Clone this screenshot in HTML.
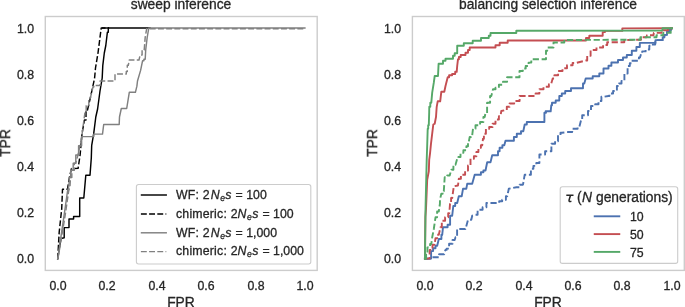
<!DOCTYPE html>
<html><head><meta charset="utf-8"><title>ROC curves</title>
<style>
html,body{margin:0;padding:0;background:#fff;}
body{width:685px;height:307px;overflow:hidden;position:relative;font-family:"Liberation Sans",sans-serif;color:#262626;}
svg{position:absolute;left:0;top:0;}
.t{will-change:transform;-webkit-text-stroke:0.3px #262626;position:absolute;white-space:nowrap;line-height:1;font-family:"Liberation Sans",sans-serif;color:#262626;}
.t i{font-style:italic;}
.t .m1{margin-left:1.2px;}
.t .sub{font-size:70%;position:relative;top:1.9px;margin-left:0.6px;}
.t .m2{margin-left:0.4px;}
.t .eq{margin-left:0.6px;}
</style></head><body>
<svg width="685" height="307" viewBox="0 0 685 307">
<rect x="45.3" y="16.5" width="271.9" height="253.9" fill="#fff" stroke="#cccccc" stroke-width="1.4"/>
<rect x="412.4" y="16.5" width="271.9" height="253.9" fill="#fff" stroke="#cccccc" stroke-width="1.4"/>
<polyline points="57.7,258.9 59.5,247.0 61.0,238.5 64.2,237.7 64.2,227.6 69.0,227.6 69.0,218.9 73.6,218.9 73.6,216.4 79.7,216.4 79.7,198.0 83.8,198.0 85.8,175.2 90.0,175.2 91.3,158.0 91.7,145.3 93.7,133.7 95.8,117.0 97.6,109.0 100.0,91.0 102.2,78.0 102.8,65.3 104.3,53.0 105.8,45.5 107.4,32.2 108.3,32.2 108.3,28.0 109.2,28.0 150.0,28.0" fill="none" stroke="#000000" stroke-width="1.45" stroke-linejoin="round" stroke-linecap="square"/>
<polyline points="57.7,258.9 59.2,232.0 61.7,209.0 62.5,189.2 67.5,189.2 69.4,177.5 71.5,168.5 78.1,168.3 80.1,155.0 82.1,133.0 84.5,120.0 86.0,120.0 86.0,110.0 87.5,110.0 90.0,99.3 93.0,85.7 94.6,78.0 95.5,68.0 98.0,53.0 101.2,28.0 109.0,28.0" fill="none" stroke="#000000" stroke-width="1.45" stroke-dasharray="5.9 2.3" stroke-linejoin="round" stroke-linecap="butt"/>
<line x1="102.0" y1="28" x2="109.2" y2="28" stroke="#000" stroke-width="1.45"/>
<polyline points="57.7,258.9 63.3,220.7 65.0,209.0 67.5,191.3 68.9,186.0 69.4,177.5 70.7,177.5 70.7,170.3 72.0,170.3 73.2,170.3 73.2,163.2 74.5,163.2 75.8,163.2 75.8,155.0 77.1,155.0 78.6,155.0 78.6,145.8 80.1,145.8 81.6,145.8 81.6,136.6 83.1,136.6 93.8,136.6 93.8,134.1 102.5,134.1 103.7,124.5 119.2,124.5 119.5,117.0 121.3,108.5 126.7,108.5 129.3,92.3 135.4,92.3 136.9,86.2 137.5,81.0 140.6,70.4 142.6,60.7 143.9,60.7 143.9,59.2 145.2,59.2 145.7,50.0 147.2,37.3 148.8,28.0 304.9,28.0" fill="none" stroke="#808080" stroke-width="1.45" stroke-linejoin="round" stroke-linecap="square"/>
<polyline points="57.9,258.9 64.3,220.7 66.1,209.0 68.6,191.3 70.0,186.0 70.5,177.5 71.8,177.5 71.8,170.3 73.1,170.3 74.3,170.3 74.3,163.2 75.6,163.2 78.0,155.0 81.7,137.0 85.0,112.0 86.2,112.0 86.2,105.7 87.5,105.7 88.8,105.7 88.8,99.3 90.0,99.3 93.0,87.0 93.8,87.0 93.8,85.4 94.5,85.4 100.1,85.4 100.1,80.9 115.0,80.9 115.0,74.0 126.3,74.0 126.3,71.5 127.3,71.5 127.3,65.3 128.3,65.3 129.3,60.0 139.0,60.0 140.1,55.1 142.1,55.1 142.1,50.0 144.2,50.0 145.2,37.3 146.7,28.7 304.9,28.7" fill="none" stroke="#808080" stroke-width="1.45" stroke-dasharray="5.9 2.3" stroke-linejoin="round" stroke-linecap="butt"/>
<polyline points="424.9,258.8 429.9,258.6 431.1,258.6 431.1,251.1 432.4,251.1 433.1,251.1 433.1,248.2 433.8,248.2 435.5,248.2 435.5,245.7 437.2,245.7 438.8,239.0 440.5,239.0 441.4,239.0 441.4,234.8 442.2,234.8 443.0,227.3 447.2,227.3 447.6,227.3 447.6,224.8 448.0,224.8 450.1,224.8 450.1,215.7 452.2,215.7 453.3,206.0 455.2,206.0 455.2,203.0 457.2,203.0 458.8,196.3 461.7,196.3 463.0,188.8 466.3,188.8 467.2,183.8 472.2,183.8 474.7,174.7 480.5,174.7 480.9,174.7 480.9,172.2 481.3,172.2 483.4,172.2 483.4,170.5 485.5,170.5 487.2,162.2 490.5,162.2 492.2,155.3 497.2,155.3 498.0,155.3 498.0,151.2 498.8,151.2 499.6,151.2 499.6,147.8 500.5,147.8 502.4,147.8 502.4,145.3 504.3,145.3 505.5,140.7 513.0,140.7 513.9,140.7 513.9,137.0 514.7,137.0 516.8,137.0 516.8,133.7 518.8,133.7 521.0,133.7 521.0,131.2 523.3,131.2 524.7,124.5 526.8,124.5 526.8,122.0 528.8,122.0 542.7,122.0 544.4,122.0 544.4,112.8 546.0,112.8 545.7,111.3 550.7,111.3 551.3,105.2 552.0,105.2 552.0,102.7 552.7,102.7 555.7,102.7 555.7,100.5 559.3,100.5 559.3,96.0 561.8,96.0 561.8,93.5 565.2,93.5 565.2,91.0 571.0,91.0 571.0,88.2 581.8,88.2 583.0,88.2 583.0,83.5 584.3,83.5 585.7,78.5 592.7,78.5 592.7,76.3 599.3,76.3 599.3,73.5 602.7,73.5 603.5,73.5 603.5,68.5 604.3,68.5 608.5,68.5 608.5,65.8 611.4,65.8 611.4,62.5 614.3,62.5 618.0,62.5 618.0,60.0 621.8,60.0 623.0,60.0 623.0,57.5 624.3,57.5 626.8,57.5 626.8,55.0 629.3,55.0 631.8,55.0 631.8,50.8 634.3,50.8 636.4,50.8 636.4,47.0 638.5,47.0 639.8,47.0 639.8,42.9 641.0,42.9 655.5,42.9 655.5,40.1 662.1,40.1 662.7,40.1 662.7,37.3 663.3,37.3 664.3,37.3 664.3,34.9 665.3,34.9 667.0,34.9 667.0,32.0 668.6,32.0 669.4,32.0 669.4,30.0 670.2,30.0 671.1,30.0 671.1,28.3 672.0,28.3" fill="none" stroke="#4c72b0" stroke-width="1.9" stroke-linejoin="round" stroke-linecap="square"/>
<polyline points="424.9,258.8 429.9,258.6 431.8,258.6 431.8,257.3 433.6,257.3 437.3,257.3 439.1,257.3 439.1,254.2 441.0,254.2 444.2,254.2 445.4,249.9 446.6,249.9 446.6,248.6 447.9,248.6 449.1,248.6 449.1,243.7 450.4,243.7 452.5,243.7 452.5,240.0 454.7,240.0 455.5,237.3 457.1,237.3 457.1,229.0 458.8,229.0 465.5,229.0 468.0,219.8 471.3,219.8 472.2,215.7 475.5,214.8 477.6,214.8 477.6,209.8 479.7,209.8 482.6,209.8 482.6,207.3 485.5,207.3 486.4,207.3 486.4,203.0 487.2,203.0 498.8,203.0 499.2,203.0 499.2,201.3 499.7,201.3 502.2,201.3 502.2,199.7 504.7,199.7 505.9,199.7 505.9,196.3 507.2,196.3 508.8,188.8 516.3,187.2 519.6,187.2 519.6,184.7 523.0,184.7 524.7,174.7 529.7,174.7 530.9,174.7 530.9,168.8 532.0,168.8 533.4,168.8 533.4,165.9 534.9,165.9 536.3,165.9 536.3,163.0 537.7,163.0 539.4,163.0 539.4,154.5 541.0,154.5 545.1,154.5 545.1,151.2 549.3,151.2 551.4,151.2 551.4,143.7 553.5,143.7 555.1,143.7 555.1,141.2 556.8,141.2 558.0,141.2 558.0,135.3 559.3,135.3 560.5,135.3 560.5,132.8 561.8,132.8 568.5,132.0 572.2,132.0 572.2,128.7 576.0,128.7 577.6,128.7 577.6,127.0 579.3,127.0 581.0,120.3 582.2,120.3 582.2,115.3 583.5,115.3 586.8,115.2 588.0,115.2 588.0,111.0 589.3,111.0 591.0,111.0 591.0,106.0 592.7,106.0 595.2,106.0 595.2,104.3 597.7,104.3 598.5,104.3 598.5,101.0 599.3,101.0 601.4,101.0 601.4,96.8 603.5,96.8 608.5,96.0 609.4,96.0 609.4,93.5 610.2,93.5 613.1,93.5 613.1,91.0 616.0,91.0 616.9,91.0 616.9,86.0 617.7,86.0 619.0,86.0 619.0,83.5 620.2,83.5 621.5,83.5 621.5,81.0 622.7,81.0 624.4,81.0 624.4,73.5 626.0,73.5 627.6,73.5 627.6,66.0 629.3,66.0 629.8,66.0 629.8,63.3 630.2,63.3 631.5,63.3 631.5,60.8 632.7,60.8 637.7,60.8 638.9,60.8 638.9,57.5 640.0,57.5 641.0,54.0 642.2,54.0 642.2,51.4 643.4,51.4 645.6,51.4 645.6,49.5 647.8,49.5 649.3,49.5 649.3,45.8 650.9,45.8 652.8,45.8 652.8,44.5 654.6,44.5 655.2,44.5 655.2,42.0 655.8,42.0 656.5,40.1 662.1,40.1 662.7,40.1 662.7,37.3 663.3,37.3 664.3,37.3 664.3,34.9 665.3,34.9 667.0,34.9 667.0,32.0 668.6,32.0 669.4,32.0 669.4,30.0 670.2,30.0 671.1,30.0 671.1,28.3 672.0,28.3" fill="none" stroke="#4c72b0" stroke-width="1.9" stroke-dasharray="6.2 2.7" stroke-linejoin="round" stroke-linecap="butt"/>
<polyline points="424.9,258.8 425.0,255.0 425.4,217.0 426.0,209.0 427.2,179.7 428.8,171.3 429.2,160.0 430.0,153.7 431.0,143.7 432.2,133.7 433.3,124.5 434.7,123.7 436.0,117.0 436.7,106.8 437.7,101.3 440.2,101.3 441.3,91.8 444.3,91.8 445.5,86.0 447.7,77.3 449.1,77.3 449.1,75.2 450.5,75.2 452.1,75.2 452.1,74.0 453.8,74.0 455.2,74.0 455.2,71.8 456.7,71.8 457.2,66.0 458.0,59.2 458.9,59.2 458.9,57.0 459.7,57.0 460.7,57.0 460.7,55.0 461.7,55.0 465.5,55.0 465.5,52.8 468.0,52.8 468.0,50.0 469.7,50.0 469.7,47.5 495.5,47.5 495.5,45.3 499.7,45.3 499.7,42.8 507.7,42.8 507.7,40.5 586.0,40.5 586.0,38.0 589.3,38.0 589.3,35.8 602.7,35.8 602.7,32.1 605.0,32.1 605.0,30.9 622.3,30.9 622.3,28.4 672.0,28.3" fill="none" stroke="#c44e52" stroke-width="1.9" stroke-linejoin="round" stroke-linecap="square"/>
<polyline points="424.9,258.8 428.0,258.6 429.6,258.6 429.6,249.9 431.1,249.9 432.5,249.9 432.5,244.8 433.8,244.8 434.4,244.8 434.4,242.4 434.9,242.4 435.5,238.2 437.1,238.2 437.1,234.8 438.8,234.8 440.5,227.3 441.8,227.3 441.8,220.7 443.0,220.7 445.1,220.7 445.1,217.3 447.2,217.3 448.2,217.3 448.2,213.2 449.3,213.2 450.0,204.0 451.1,204.0 451.1,198.0 452.2,198.0 453.8,186.3 458.0,185.5 458.8,178.8 460.9,178.8 460.9,174.7 463.0,174.7 465.1,174.7 465.1,170.5 467.2,170.5 468.0,170.5 468.0,165.5 468.8,165.5 470.5,165.5 470.5,158.7 472.2,158.7 473.9,158.7 473.9,156.2 475.5,156.2 476.4,156.2 476.4,152.0 477.2,152.0 478.4,152.0 478.4,147.8 479.7,147.8 480.9,147.8 480.9,145.3 482.2,145.3 483.0,138.7 483.9,138.7 483.9,133.7 484.7,133.7 485.9,133.7 485.9,128.7 487.2,128.7 489.2,128.7 489.2,127.0 491.3,127.0 492.6,127.0 492.6,123.7 493.8,123.7 495.5,123.7 495.5,119.5 497.2,119.5 498.9,119.5 498.9,116.2 500.5,116.2 501.3,111.0 504.7,110.2 506.8,110.2 506.8,106.8 508.8,106.8 509.6,106.8 509.6,103.5 510.5,103.5 514.2,103.5 514.2,101.0 518.0,101.0 519.6,101.0 519.6,96.0 521.3,96.0 532.7,96.0 535.6,96.0 535.6,93.5 538.5,93.5 539.4,93.5 539.4,89.3 540.2,89.3 543.5,89.3 543.5,86.8 546.8,86.8 548.9,86.8 548.9,84.3 551.0,84.3 552.7,78.5 554.4,78.5 554.4,75.2 556.0,75.2 558.1,75.2 558.1,71.0 560.2,71.0 562.5,71.0 562.5,68.2 564.8,68.2 567.0,68.2 567.0,65.3 569.3,65.3 572.6,65.3 572.6,63.0 576.0,63.0 586.0,60.5 587.2,60.5 587.2,55.8 588.5,55.8 590.6,55.8 590.6,50.0 592.7,50.0 596.5,50.0 596.5,47.5 600.2,47.5 603.1,47.5 603.1,45.0 606.0,45.0 607.2,45.0 607.2,42.2 608.5,42.2 624.3,42.2 624.3,40.0 641.0,39.7 641.0,37.3 646.5,37.3 647.0,35.3 653.5,35.3 653.8,32.9 660.3,32.9 661.6,32.9 661.6,30.3 663.0,30.3 667.0,30.3 668.0,30.3 668.0,28.3 669.0,28.3 672.0,28.3" fill="none" stroke="#c44e52" stroke-width="1.9" stroke-dasharray="6.2 2.7" stroke-linejoin="round" stroke-linecap="butt"/>
<polyline points="424.9,258.8 425.0,255.0 425.5,209.0 426.7,160.0 427.2,145.3 427.7,128.7 428.2,128.7 428.2,125.3 428.8,125.3 429.2,112.0 429.3,106.8 430.3,106.8 430.3,102.7 431.3,102.7 432.2,92.7 433.8,82.7 434.7,76.0 438.0,76.0 438.6,63.7 443.0,63.7 443.0,60.8 445.5,60.8 445.5,58.7 453.0,58.7 453.0,55.8 454.7,55.8 454.7,53.3 457.2,53.3 457.2,45.8 463.8,45.8 463.8,43.3 472.7,43.3 472.7,40.8 481.0,40.8 481.0,38.0 488.8,38.0 488.8,35.8 490.5,35.8 490.5,33.0 516.3,33.0 516.3,30.7 662.5,30.6 662.5,28.3 672.0,28.3" fill="none" stroke="#55a868" stroke-width="1.9" stroke-linejoin="round" stroke-linecap="square"/>
<polyline points="424.9,258.8 426.1,258.8 426.1,253.6 427.4,253.6 427.4,247.4 428.8,247.3 430.1,247.3 430.1,244.0 431.3,244.0 432.2,237.3 433.8,229.0 435.5,217.3 437.1,217.3 437.1,211.5 438.8,211.5 439.9,204.0 440.0,199.7 441.3,193.8 442.6,193.8 442.6,191.3 443.8,191.3 444.7,177.2 447.2,177.2 447.2,175.5 449.7,175.5 451.3,169.7 453.4,169.7 453.4,164.7 455.5,164.7 457.2,158.7 458.4,158.7 458.4,157.0 459.7,157.0 460.5,157.0 460.5,152.8 461.3,152.8 463.4,152.8 463.4,150.3 465.5,150.3 466.4,150.3 466.4,146.2 467.2,146.2 468.0,146.2 468.0,142.0 468.8,142.0 469.7,137.0 470.9,137.0 470.9,135.3 472.2,135.3 473.0,128.7 475.5,128.7 475.5,125.3 478.0,125.3 480.1,125.3 480.1,122.0 482.2,122.0 483.4,122.0 483.4,117.0 484.7,117.0 485.5,113.0 487.1,113.0 487.1,102.7 488.8,102.7 490.1,102.7 490.1,96.0 491.3,96.0 493.0,89.3 495.5,89.3 495.5,87.7 498.0,87.7 498.9,87.7 498.9,84.7 499.7,84.7 503.0,84.7 503.0,81.8 506.3,81.8 507.1,81.8 507.1,77.3 508.0,77.3 517.7,77.3 519.5,77.3 519.5,71.0 521.3,71.0 522.8,71.0 522.8,68.5 524.2,68.5 525.7,68.5 525.7,66.0 527.2,66.0 528.6,66.0 528.6,62.6 530.0,62.6 531.3,62.6 531.3,59.2 532.7,59.2 546.0,59.2 546.0,50.8 547.2,50.8 547.2,47.5 548.5,47.5 553.5,47.5 553.5,42.5 564.3,42.5 564.3,40.0 640.4,39.7 640.4,37.3 656.5,37.3 656.5,35.3 663.3,35.3 663.3,32.9 669.4,32.9 670.7,32.9 670.7,28.3 672.0,28.3" fill="none" stroke="#55a868" stroke-width="1.9" stroke-dasharray="6.2 2.7" stroke-linejoin="round" stroke-linecap="butt"/>
<rect x="136.4" y="184.5" width="174.4" height="79.5" rx="2.2" ry="2.2" fill="#fff" fill-opacity="0.8" stroke="#cccccc" stroke-width="1.1"/>
<line x1="141.5" y1="195.0" x2="166.2" y2="195.0" stroke="#000000" stroke-width="1.45" stroke-linecap="square"/>
<line x1="140.9" y1="213.9" x2="166.3" y2="213.9" stroke="#000000" stroke-width="1.45" stroke-dasharray="5.9 2.3"/>
<line x1="141.5" y1="232.8" x2="166.2" y2="232.8" stroke="#808080" stroke-width="1.45" stroke-linecap="square"/>
<line x1="140.9" y1="251.6" x2="166.3" y2="251.6" stroke="#808080" stroke-width="1.45" stroke-dasharray="5.9 2.3"/>
<rect x="560.2" y="186.8" width="117.5" height="76.6" rx="2.2" ry="2.2" fill="#fff" fill-opacity="0.8" stroke="#cccccc" stroke-width="1.1"/>
<line x1="594.7" y1="216.3" x2="619.3" y2="216.3" stroke="#4c72b0" stroke-width="1.9" stroke-linecap="square"/>
<line x1="594.7" y1="234.1" x2="619.3" y2="234.1" stroke="#c44e52" stroke-width="1.9" stroke-linecap="square"/>
<line x1="594.7" y1="251.9" x2="619.3" y2="251.9" stroke="#55a868" stroke-width="1.9" stroke-linecap="square"/>
<path d="M566.3,195.3 L573.5,195.3 M570.5,195.3 L569.1,200.0 Q568.7,201.7 570.3,201.6 L571.4,201.3" fill="none" stroke="#262626" stroke-width="1.5" stroke-linecap="butt" stroke-linejoin="round"/>
</svg>
<div class="t" style="right:650.6px;top:252.8px;font-size:12.3px;">0.0</div>
<div class="t" style="right:283.5px;top:252.8px;font-size:12.3px;">0.0</div>
<div class="t" style="left:57.7px;transform:translateX(-50%);top:280.2px;font-size:12.3px;">0.0</div>
<div class="t" style="left:424.8px;transform:translateX(-50%);top:280.2px;font-size:12.3px;">0.0</div>
<div class="t" style="right:650.6px;top:206.8px;font-size:12.3px;">0.2</div>
<div class="t" style="right:283.5px;top:206.8px;font-size:12.3px;">0.2</div>
<div class="t" style="left:107.1px;transform:translateX(-50%);top:280.2px;font-size:12.3px;">0.2</div>
<div class="t" style="left:474.2px;transform:translateX(-50%);top:280.2px;font-size:12.3px;">0.2</div>
<div class="t" style="right:650.6px;top:160.7px;font-size:12.3px;">0.4</div>
<div class="t" style="right:283.5px;top:160.7px;font-size:12.3px;">0.4</div>
<div class="t" style="left:156.6px;transform:translateX(-50%);top:280.2px;font-size:12.3px;">0.4</div>
<div class="t" style="left:523.6px;transform:translateX(-50%);top:280.2px;font-size:12.3px;">0.4</div>
<div class="t" style="right:650.6px;top:114.7px;font-size:12.3px;">0.6</div>
<div class="t" style="right:283.5px;top:114.7px;font-size:12.3px;">0.6</div>
<div class="t" style="left:206.0px;transform:translateX(-50%);top:280.2px;font-size:12.3px;">0.6</div>
<div class="t" style="left:572.9px;transform:translateX(-50%);top:280.2px;font-size:12.3px;">0.6</div>
<div class="t" style="right:650.6px;top:68.6px;font-size:12.3px;">0.8</div>
<div class="t" style="right:283.5px;top:68.6px;font-size:12.3px;">0.8</div>
<div class="t" style="left:255.5px;transform:translateX(-50%);top:280.2px;font-size:12.3px;">0.8</div>
<div class="t" style="left:622.3px;transform:translateX(-50%);top:280.2px;font-size:12.3px;">0.8</div>
<div class="t" style="right:650.6px;top:22.6px;font-size:12.3px;">1.0</div>
<div class="t" style="right:283.5px;top:22.6px;font-size:12.3px;">1.0</div>
<div class="t" style="left:304.9px;transform:translateX(-50%);top:280.2px;font-size:12.3px;">1.0</div>
<div class="t" style="left:671.7px;transform:translateX(-50%);top:280.2px;font-size:12.3px;">1.0</div>
<div class="t" style="left:181.0px;transform:translateX(-50%);top:296.2px;font-size:13.8px;">FPR</div>
<div class="t" style="left:547.9px;transform:translateX(-50%);top:296.2px;font-size:13.8px;">FPR</div>
<div class="t" style="left:181.3px;transform:translateX(-50%);top:-1.7px;font-size:13.8px;">sweep inference</div>
<div class="t" style="left:548.3px;transform:translateX(-50%);top:-1.7px;font-size:13.8px;">balancing selection inference</div>
<div class="t" style="left:6.3px;top:142.9px;font-size:13.8px;transform:translate(-50%,-50%) rotate(-90deg);transform-origin:center;">TPR</div>
<div class="t" style="left:373.4px;top:142.9px;font-size:13.8px;transform:translate(-50%,-50%) rotate(-90deg);transform-origin:center;">TPR</div>
<div class="t" style="left:176.3px;top:188.7px;font-size:12.3px;"><span style="letter-spacing:0.17px">WF: </span>2<i style="margin-left:1.2px">N</i><i class="sub">e</i><i class="m2">s</i><span class="eq"> = </span><span style="margin-left:0.1px">100</span></div>
<div class="t" style="left:176.3px;top:207.6px;font-size:12.3px;"><span style="letter-spacing:0.20px">chimeric: </span>2<i style="margin-left:0.1px">N</i><i class="sub">e</i><i class="m2">s</i><span class="eq"> = </span><span style="margin-left:0.1px">100</span></div>
<div class="t" style="left:176.3px;top:226.5px;font-size:12.3px;"><span style="letter-spacing:0.17px">WF: </span>2<i style="margin-left:1.2px">N</i><i class="sub">e</i><i class="m2">s</i><span class="eq"> = </span><span style="margin-left:0.1px">1,000</span></div>
<div class="t" style="left:176.3px;top:245.3px;font-size:12.3px;"><span style="letter-spacing:0.20px">chimeric: </span>2<i style="margin-left:0.1px">N</i><i class="sub">e</i><i class="m2">s</i><span class="eq"> = </span><span style="margin-left:0.1px">1,000</span></div>
<div class="t" style="left:629.5px;top:211.0px;font-size:12.3px;">10</div>
<div class="t" style="left:629.5px;top:228.8px;font-size:12.3px;">50</div>
<div class="t" style="left:629.5px;top:246.6px;font-size:12.3px;">75</div>
<div class="t" style="left:576.9px;top:191.4px;font-size:13.8px;">(<i style="margin-left:0.3px">N</i></div>
<div class="t" style="left:595.9px;top:191.4px;font-size:13.8px;">generations)</div>
</body></html>
